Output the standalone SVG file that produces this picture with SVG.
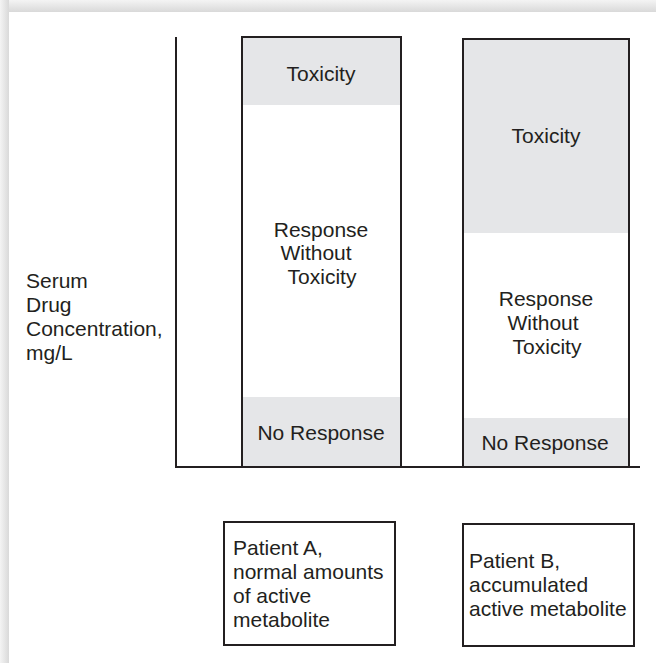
<svg xmlns="http://www.w3.org/2000/svg" width="656" height="663" viewBox="0 0 656 663">
<style>
text{font-family:"Liberation Sans",Arial,sans-serif;font-size:21px;fill:#231f20}
.c{text-anchor:middle}
.band{fill:#e5e6e8;stroke:none}
.frame{fill:none;stroke:#231f20;stroke-width:2}
.ax{stroke:#231f20;stroke-width:2;fill:none}
</style>
<defs>
<linearGradient id="gt" x1="0" y1="0" x2="0" y2="1">
<stop offset="0" stop-color="#f4f4f4"/>
<stop offset="1" stop-color="#d9d9d9"/>
</linearGradient>
<linearGradient id="gl" x1="0" y1="0" x2="1" y2="0">
<stop offset="0" stop-color="#f4f4f4"/>
<stop offset="1" stop-color="#d9d9d9"/>
</linearGradient>
</defs>
<rect x="0" y="0" width="656" height="663" fill="#ffffff"/>
<rect x="0" y="0" width="656" height="12" fill="url(#gt)"/>
<rect x="0" y="0" width="9" height="663" fill="url(#gl)"/>
<rect x="9" y="12" width="647" height="651" fill="#ffffff"/>

<g id="axes">
<path class="ax" d="M176,37 V467 H640"/>
</g>

<g id="ylabel">
<text x="26" y="288">Serum</text>
<text x="26" y="312">Drug</text>
<text x="26" y="336">Concentration,</text>
<text x="26" y="360">mg/L</text>
</g>

<g id="colA">
<rect class="band" x="242" y="37" width="159" height="68"/>
<rect class="band" x="242" y="397" width="159" height="70"/>
<rect class="frame" x="242" y="37" width="159" height="430"/>
<text class="c" x="321" y="81">Toxicity</text>
<text class="c" x="321" y="237">Response</text>
<text class="c" x="316" y="260">Without</text>
<text class="c" x="322" y="284">Toxicity</text>
<text class="c" x="321" y="440">No Response</text>
</g>

<g id="colB">
<rect class="band" x="463" y="39" width="166" height="194"/>
<rect class="band" x="463" y="418" width="166" height="49"/>
<rect class="frame" x="463" y="39" width="166" height="428"/>
<text class="c" x="546" y="143">Toxicity</text>
<text class="c" x="546" y="306">Response</text>
<text class="c" x="543" y="330">Without</text>
<text class="c" x="547" y="354">Toxicity</text>
<text class="c" x="545" y="450">No Response</text>
</g>

<g id="patientA">
<rect class="frame" x="224" y="522" width="171" height="123"/>
<text x="233" y="555">Patient A,</text>
<text x="233" y="579">normal amounts</text>
<text x="233" y="603">of active</text>
<text x="233" y="627">metabolite</text>
</g>

<g id="patientB">
<rect class="frame" x="463" y="524" width="171" height="122"/>
<text x="469" y="568">Patient B,</text>
<text x="469" y="592">accumulated</text>
<text x="469" y="616">active metabolite</text>
</g>
</svg>
